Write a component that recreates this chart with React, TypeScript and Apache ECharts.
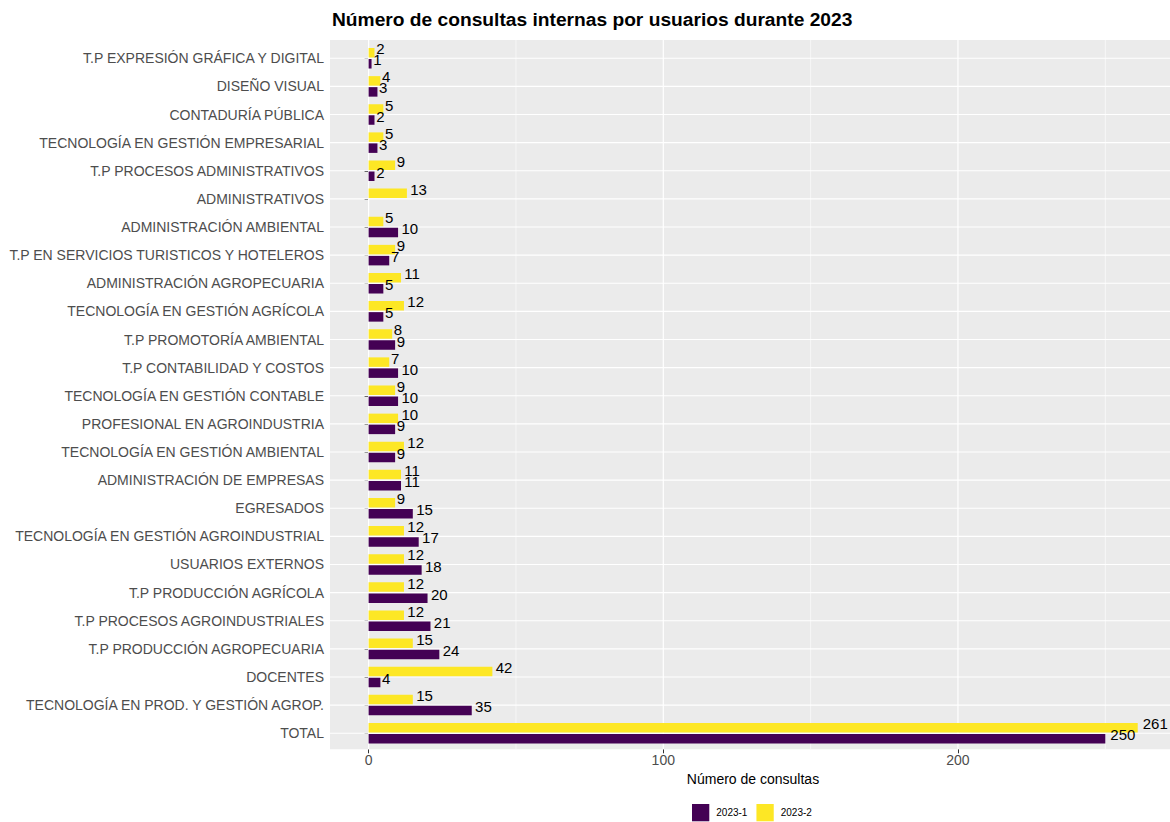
import React, { useEffect, useRef } from "react";
import * as echarts from "echarts";

const categories = [
  "T.P EXPRESIÓN GRÁFICA Y DIGITAL",
  "DISEÑO VISUAL",
  "CONTADURÍA PÚBLICA",
  "TECNOLOGÍA EN GESTIÓN EMPRESARIAL",
  "T.P PROCESOS ADMINISTRATIVOS",
  "ADMINISTRATIVOS",
  "ADMINISTRACIÓN AMBIENTAL",
  "T.P EN SERVICIOS TURISTICOS Y HOTELEROS",
  "ADMINISTRACIÓN AGROPECUARIA",
  "TECNOLOGÍA EN GESTIÓN AGRÍCOLA",
  "T.P PROMOTORÍA AMBIENTAL",
  "T.P CONTABILIDAD Y COSTOS",
  "TECNOLOGÍA EN GESTIÓN CONTABLE",
  "PROFESIONAL EN AGROINDUSTRIA",
  "TECNOLOGÍA EN GESTIÓN AMBIENTAL",
  "ADMINISTRACIÓN DE EMPRESAS",
  "EGRESADOS",
  "TECNOLOGÍA EN GESTIÓN AGROINDUSTRIAL",
  "USUARIOS EXTERNOS",
  "T.P PRODUCCIÓN AGRÍCOLA",
  "T.P PROCESOS AGROINDUSTRIALES",
  "T.P PRODUCCIÓN AGROPECUARIA",
  "DOCENTES",
  "TECNOLOGÍA EN PROD. Y GESTIÓN AGROP.",
  "TOTAL",
];

const values2023_1: (number | null)[] = [
  1, 3, 2, 3, 2, null, 10, 7, 5, 5, 9, 10, 10, 9, 9, 11, 15, 17, 18, 20, 21, 24, 4, 35, 250,
];

const values2023_2: (number | null)[] = [
  2, 4, 5, 5, 9, 13, 5, 9, 11, 12, 8, 7, 9, 10, 12, 11, 9, 12, 12, 12, 12, 15, 42, 15, 261,
];

const seriesNames = ["2023-1", "2023-2"];
const xTicks = [0, 100, 200];
const xMinorBreaks = [50, 150, 250];

const title = "Número de consultas internas por usuarios durante 2023";
const xTitle = "Número de consultas";

const FONT = "'Liberation Sans', Arial, sans-serif";
const PURPLE = "#440154";
const YELLOW = "#FDE725";

export default function App() {
  const ref = useRef<HTMLDivElement>(null);

  useEffect(() => {
    const chart = echarts.init(ref.current!, null, { renderer: "svg" });

    const panel = { left: 330, top: 40, width: 840, height: 709.3 };
    const gridTop = 44.2;
    const gridHeight = 703.1;

    const labelFont = 15;
    const toItems = (arr: (number | null)[]) =>
      arr.map((v) =>
        v == null
          ? null
          : {
              value: v,
              label: { distance: 0.2 * String(v).length * 0.556 * labelFont },
            }
      );

    const labelCfg = {
      show: true,
      position: "right",
      color: "#000",
      fontFamily: FONT,
      fontSize: labelFont,
      offset: [0, -4],
    };

    chart.setOption({
      animation: false,
      textStyle: { fontFamily: FONT },
      title: {
        text: title,
        left: 332,
        top: 10,
        padding: 0,
        textStyle: { fontFamily: FONT, fontSize: 19.2, fontWeight: "bold", color: "#000" },
      },
      legend: {
        data: seriesNames,
        left: 692,
        top: 804,
        padding: 0,
        itemWidth: 17.3,
        itemHeight: 17.3,
        itemGap: 9,
        icon: "rect",
        textStyle: { fontFamily: FONT, fontSize: 10, color: "#000", padding: [0, 0, 0, 2] },
      },
      grid: { left: panel.left, top: gridTop, width: panel.width, height: gridHeight, containLabel: false },
      xAxis: {
        type: "value",
        min: -13.1,
        max: 271.95,
        splitNumber: 3,
        offset: 2,
        axisLine: { show: false },
        axisTick: { show: true, customValues: xTicks, length: 4, lineStyle: { color: "#333", width: 1 } },
        axisLabel: {
          customValues: xTicks,
          color: "#4D4D4D",
          fontSize: 14,
          margin: 4,
          fontFamily: FONT,
        },
        splitLine: { show: false },
        name: xTitle,
        nameLocation: "middle",
        nameGap: 22,
        nameTextStyle: { color: "#000", fontSize: 14, fontFamily: FONT, padding: [0, 0, 0, 6] },
      },
      yAxis: {
        type: "category",
        data: categories,
        inverse: true,
        axisLine: { show: false },
        axisTick: { show: true, alignWithLabel: true, length: 4, lineStyle: { color: "#333", width: 1 } },
        axisLabel: { color: "#4D4D4D", fontSize: 14, margin: 6, fontFamily: FONT },
        splitLine: { show: false },
      },
      series: [
        {
          name: seriesNames[1],
          type: "bar",
          data: toItems(values2023_2),
          itemStyle: { color: YELLOW },
          barWidth: 9.5,
          barGap: "16%",
          label: labelCfg,
          z: 3,
        },
        {
          name: seriesNames[0],
          type: "bar",
          data: toItems(values2023_1),
          itemStyle: { color: PURPLE },
          barWidth: 9.5,
          barGap: "16%",
          label: labelCfg,
          z: 3,
        },
      ],
    });

    const graphics: any[] = [
      {
        type: "rect",
        silent: true,
        z: 0,
        shape: { x: panel.left, y: panel.top, width: panel.width, height: panel.height },
        style: { fill: "#EBEBEB" },
      },
    ];
    const x0 = panel.left;
    const x1 = panel.left + panel.width;
    const y0 = panel.top;
    const y1 = panel.top + panel.height;
    xMinorBreaks.forEach((v) => {
      const px = chart.convertToPixel({ xAxisIndex: 0 }, v) as number;
      graphics.push({
        type: "line",
        silent: true,
        z: 1,
        shape: { x1: px, y1: y0, x2: px, y2: y1 },
        style: { stroke: "#FFFFFF", lineWidth: 0.6 },
      });
    });
    xTicks.forEach((v) => {
      const px = chart.convertToPixel({ xAxisIndex: 0 }, v) as number;
      graphics.push({
        type: "line",
        silent: true,
        z: 1,
        shape: { x1: px, y1: y0, x2: px, y2: y1 },
        style: { stroke: "#FFFFFF", lineWidth: 1.2 },
      });
    });
    categories.forEach((c) => {
      const py = chart.convertToPixel({ yAxisIndex: 0 }, c) as number;
      graphics.push({
        type: "line",
        silent: true,
        z: 1,
        shape: { x1: x0, y1: py, x2: x1, y2: py },
        style: { stroke: "#FFFFFF", lineWidth: 1.2 },
      });
    });
    chart.setOption({ graphic: graphics });

    return () => chart.dispose();
  }, []);

  return (
    <div
      ref={ref}
      style={{ position: "fixed", left: 0, top: 0, width: 1170, height: 822, background: "#fff" }}
    />
  );
}
